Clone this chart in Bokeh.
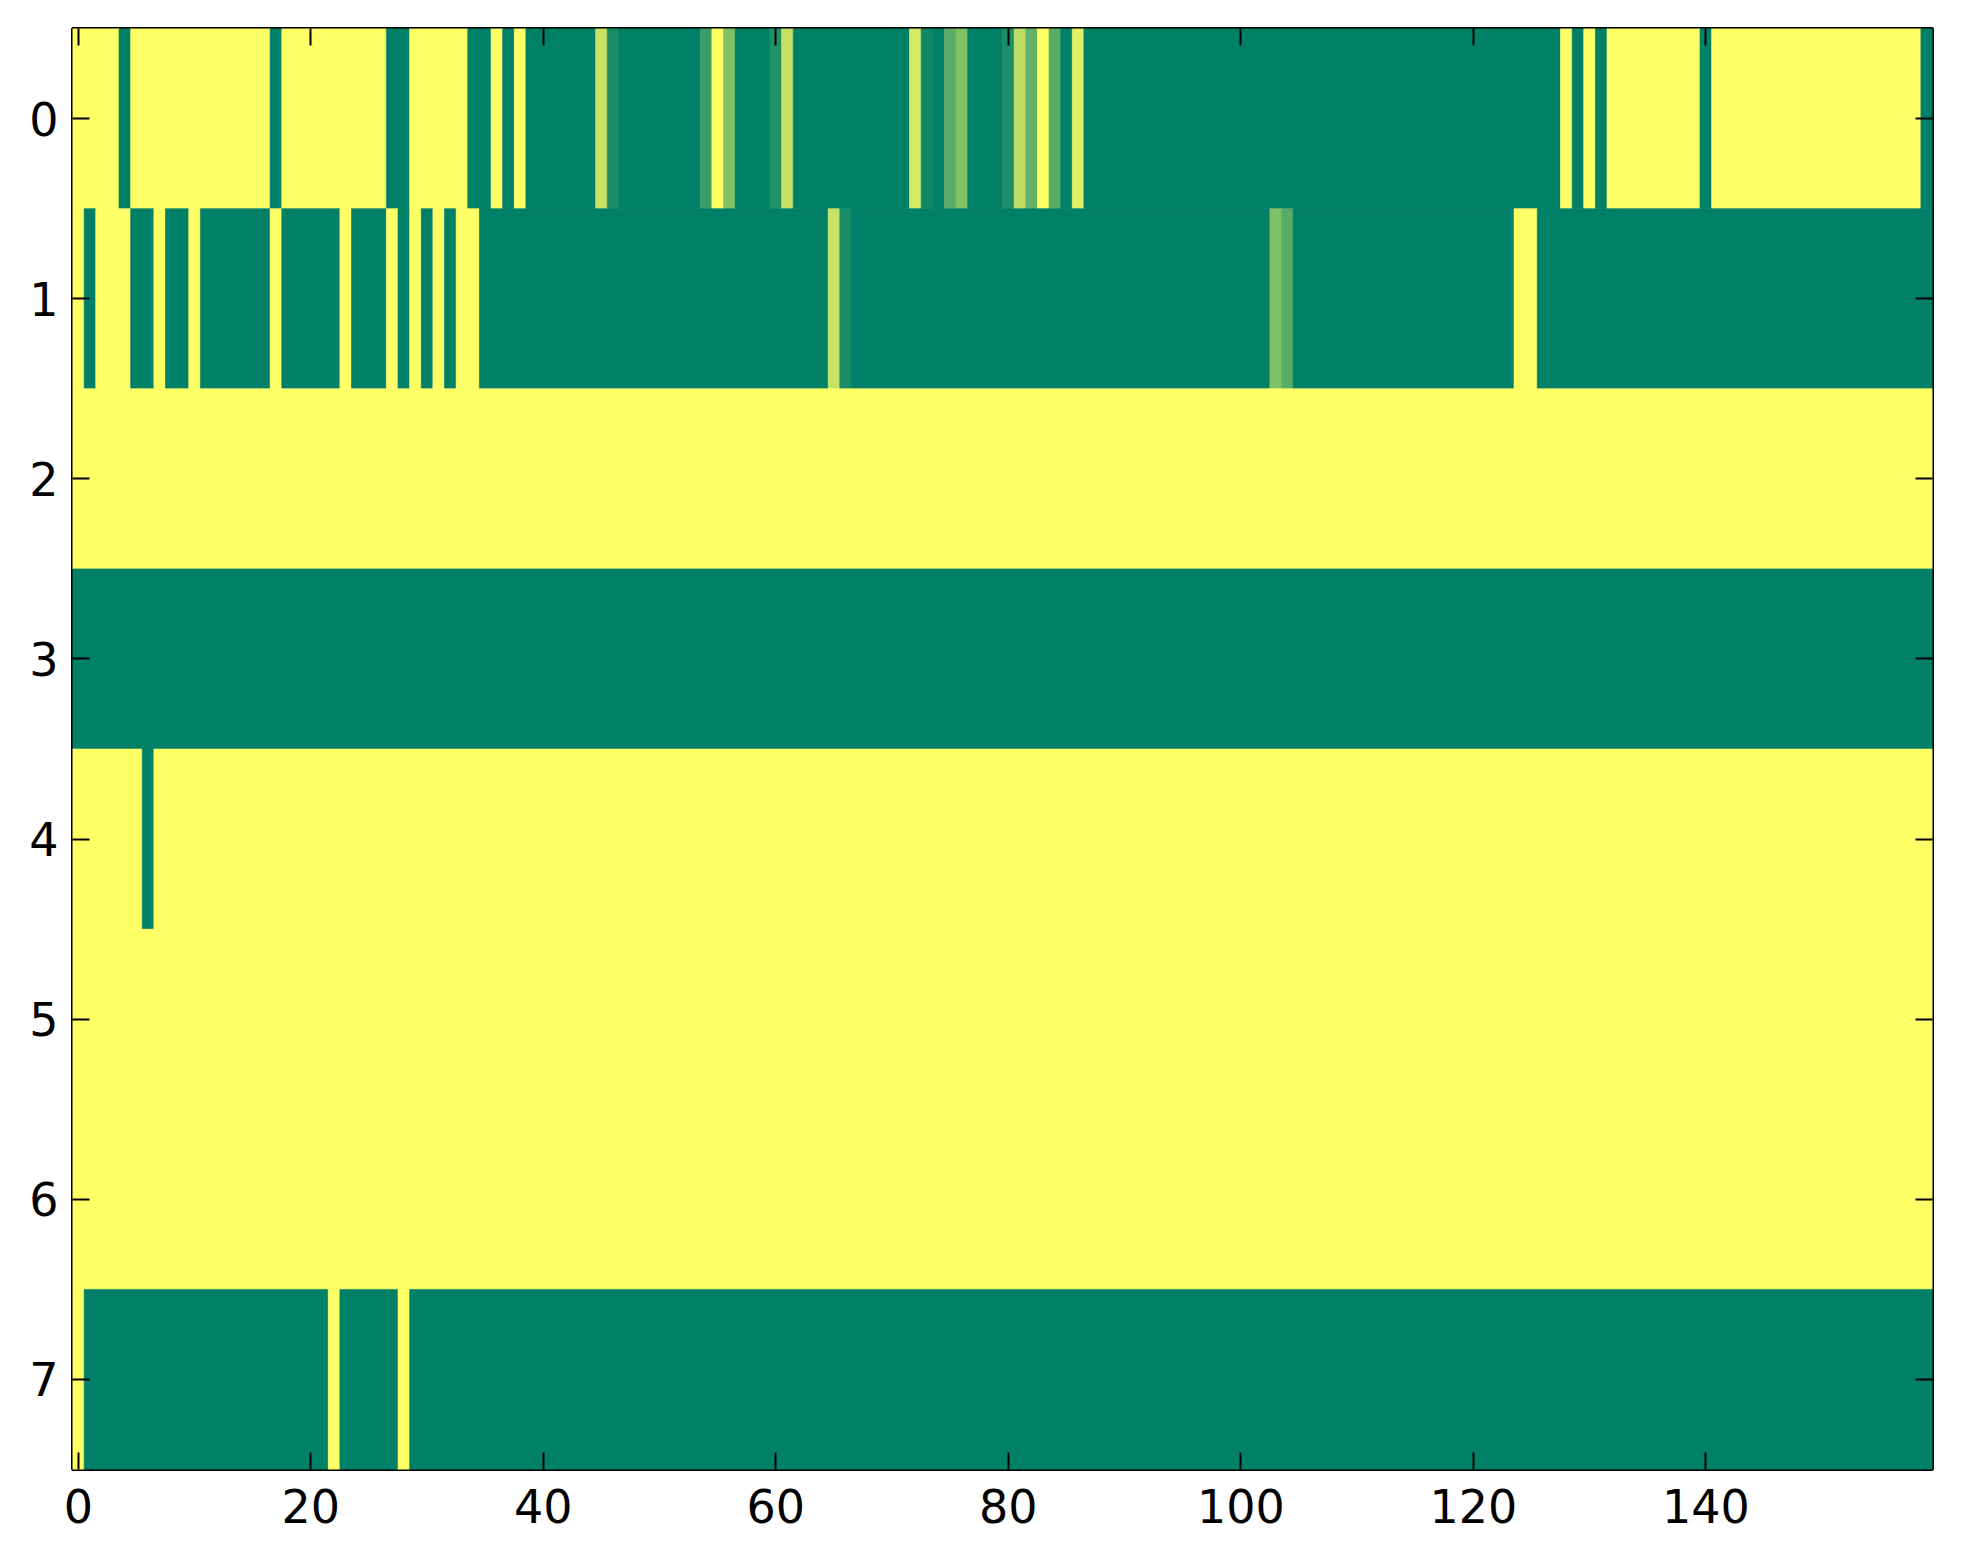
import numpy as np
from bokeh.plotting import figure
from bokeh.models import ColumnDataSource, Range1d, FixedTicker, LinearAxis
from bokeh.transform import linear_cmap
from bokeh.embed import file_html
from bokeh.resources import INLINE

# values, 8 rows x 160 columns (0 = green, 1 = yellow)
row0 = [1, 1, 1, 1, 0, 1, 1, 1, 1, 1, 1, 1, 1, 1, 1, 1, 1, 0, 1, 1,
        1, 1, 1, 1, 1, 1, 1, 0, 0, 1, 1, 1, 1, 1, 0, 0, 1, 0, 1, 0,
        0, 0, 0, 0, 0, 0.78, 0.1, 0, 0, 0, 0, 0, 0, 0, 0.23, 1, 0.5, 0, 0, 0,
        0.13, 0.77, 0, 0, 0, 0, 0, 0, 0, 0, 0, 0, 0.83, 0.06, 0, 0.36, 0.5, 0, 0, 0,
        0.12, 0.74, 0.39, 1, 0.35, 0, 0.88, 0, 0, 0, 0, 0, 0, 0, 0, 0, 0, 0, 0, 0,
        0, 0, 0, 0, 0, 0, 0, 0, 0, 0, 0, 0, 0, 0, 0, 0, 0, 0, 0, 0,
        0, 0, 0, 0, 0, 0, 0, 0, 1, 0, 1, 0, 1, 1, 1, 1, 1, 1, 1, 1,
        0, 1, 1, 1, 1, 1, 1, 1, 1, 1, 1, 1, 1, 1, 1, 1, 1, 1, 1, 0]
row1 = [1, 0, 1, 1, 1, 0, 0, 1, 0, 0, 1, 0, 0, 0, 0, 0, 0, 1, 0, 0,
        0, 0, 0, 1, 0, 0, 0, 1, 0, 1, 0, 1, 0, 1, 1, 0, 0, 0, 0, 0,
        0, 0, 0, 0, 0, 0, 0, 0, 0, 0, 0, 0, 0, 0, 0, 0, 0, 0, 0, 0,
        0, 0, 0, 0, 0, 0.78, 0.1, 0, 0, 0, 0, 0, 0, 0, 0, 0, 0, 0, 0, 0,
        0, 0, 0, 0, 0, 0, 0, 0, 0, 0, 0, 0, 0, 0, 0, 0, 0, 0, 0, 0,
        0, 0, 0, 0.5, 0.35, 0, 0, 0, 0, 0, 0, 0, 0, 0, 0, 0, 0, 0, 0, 0,
        0, 0, 0, 0, 1, 1, 0, 0, 0, 0, 0, 0, 0, 0, 0, 0, 0, 0, 0, 0,
        0, 0, 0, 0, 0, 0, 0, 0, 0, 0, 0, 0, 0, 0, 0, 0, 0, 0, 0, 0]
row2 = [1] * 160
row3 = [0] * 160
row4 = [1, 1, 1, 1, 1, 1, 0, 1, 1, 1] + [1] * 150
row5 = [1] * 160
row6 = [1] * 160
row7 = ([1] + [0] * 21 + [1] + [0] * 5 + [1]) + [0] * 131

rows = [row0, row1, row2, row3, row4, row5, row6, row7]
x_ticks = [0, 20, 40, 60, 80, 100, 120, 140]
y_ticks = [0, 1, 2, 3, 4, 5, 6, 7]

# matplotlib "summer" colormap
summer = ["#%02x%02x%02x" % (int(round(255 * t)), int(round(255 * (0.5 + 0.5 * t))), 102)
          for t in np.linspace(0, 1, 256)]

# join runs of equal cells in a row into one block, so no seams show
left, right, top, bottom, vals = [], [], [], [], []
for r, row in enumerate(rows):
    start = 0
    for c in range(1, len(row) + 1):
        if c == len(row) or row[c] != row[start]:
            left.append(start - 0.5)
            right.append(c - 0.5)
            top.append(r - 0.5)
            bottom.append(r + 0.5)
            vals.append(row[start])
            start = c
src = ColumnDataSource(data=dict(left=left, right=right, top=top, bottom=bottom, value=vals))

p = figure(x_range=Range1d(-0.5, 159.5), y_range=Range1d(7.5, -0.5),
           frame_width=1860, frame_height=1441,
           min_border_left=72, min_border_top=28, min_border_right=20, min_border_bottom=80,
           toolbar_location=None, output_backend="svg")

cmap = linear_cmap("value", summer, 0, 1)
p.quad(left="left", right="right", top="top", bottom="bottom", source=src,
       fill_color=cmap, line_color=cmap, line_width=0.6)

p.add_layout(LinearAxis(), "above")
p.add_layout(LinearAxis(), "right")

for ax in p.axis:
    ax.axis_line_color = None
    ax.major_tick_in = 17
    ax.major_tick_out = 0
    ax.major_tick_line_width = 2
    ax.major_tick_line_color = "black"
    ax.minor_tick_line_color = None
    ax.major_label_text_font = "DejaVu Sans"
    ax.major_label_text_font_size = "46px"
    ax.major_label_text_color = "black"

for ax in p.xaxis:
    ax.ticker = FixedTicker(ticks=x_ticks)
for ax in p.yaxis:
    ax.ticker = FixedTicker(ticks=y_ticks)

p.below[0].major_label_standoff = 19
p.left[0].major_label_standoff = 14
# top and right spines only carry ticks, as in the original
for ax in (p.above[0], p.right[0]):
    ax.major_label_text_font_size = "1px"
    ax.major_label_text_color = None
    ax.major_label_standoff = 0

p.grid.visible = False
p.outline_line_color = "black"
p.outline_line_width = 3
p.background_fill_color = "white"
p.border_fill_color = "white"

open("out.html", "w").write(file_html(p, INLINE))
